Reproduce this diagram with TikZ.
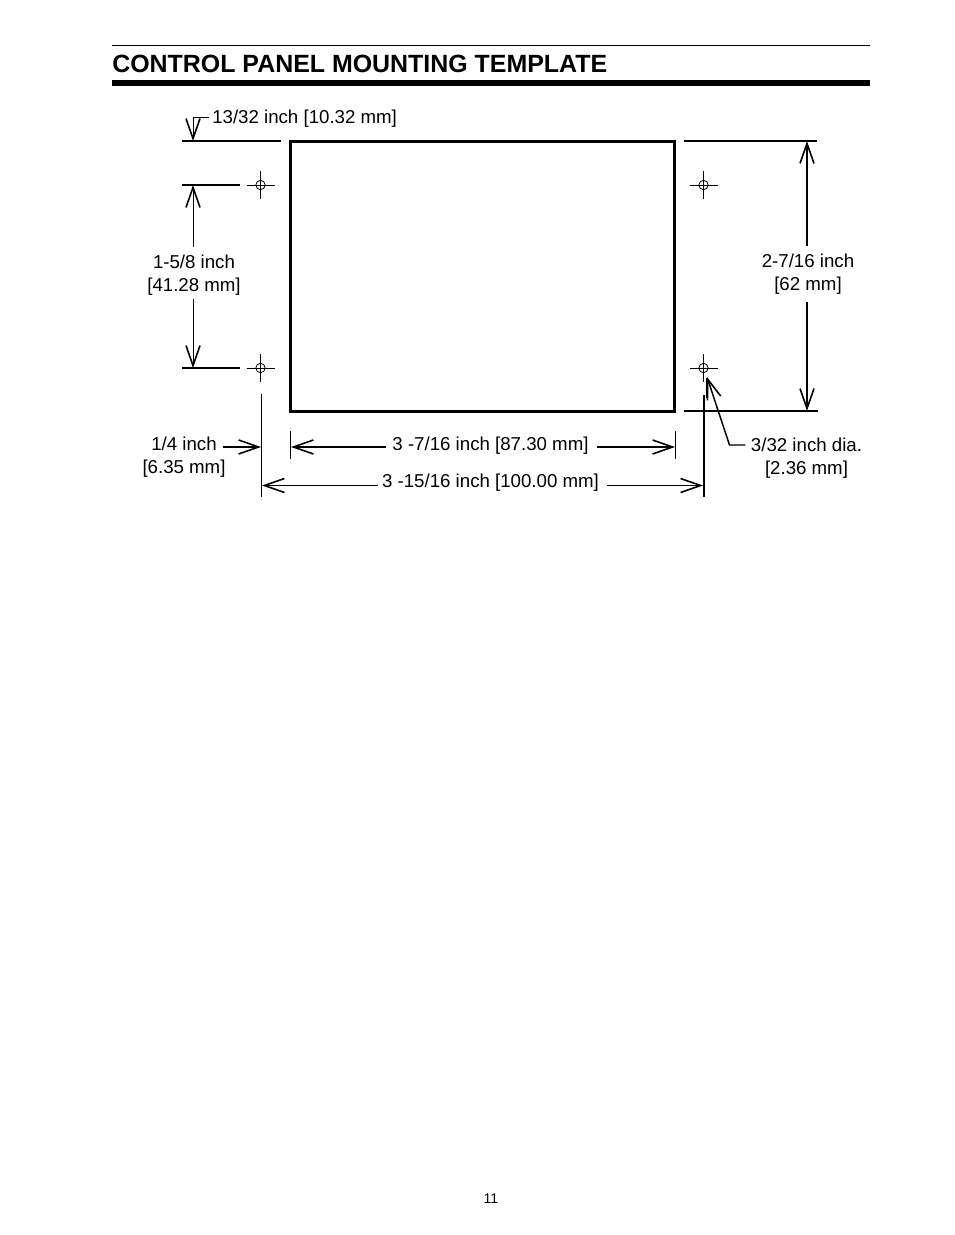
\documentclass[tikz,border=0pt]{standalone}
\usepackage{fontspec}
\setmainfont{Liberation Sans}
\usetikzlibrary{arrows.meta}
\tikzset{
    dimtip/.style={-{Straight Barb[length=15pt,width=10.5pt,line width=1.2pt]}},
    lbl/.style={inner sep=0pt,align=center,font=\fontsize{14}{17}\selectfont},
    thinline/.style={line width=0.75pt},
    midline/.style={line width=1.1pt},
    heavyline/.style={line width=1.5pt},
    markring/.style={draw,circle,line width=0.6pt,minimum size=7pt,inner sep=0pt}
}
\begin{document}
\begin{tikzpicture}[x=0.75pt,y=-0.75pt]
    \useasboundingbox (0,0) rectangle (954,1235);

    % heading
    \coordinate (topruleL) at (112,45.5);
    \coordinate (topruleR) at (870,45.5);
    \coordinate (subruleL) at (112,83);
    \coordinate (subruleR) at (870,83);
    \draw[thinline] (topruleL) -- (topruleR);
    \draw[line width=4.5pt] (subruleL) -- (subruleR);
    \node[anchor=base west,inner sep=0pt,font=\fontsize{18.7}{20}\selectfont\bfseries] (heading) at (112,72) {CONTROL PANEL MOUNTING TEMPLATE};

    % panel cut-out
    \node[draw,line width=2.35pt,minimum width=384pt*0.75,minimum height=270pt*0.75,inner sep=0pt] (panel) at (482.5,276.5) {};

    % mounting holes
    \foreach \hname/\hx/\hy in {hTL/260.5/185,hTR/703.5/185,hBL/260.5/368,hBR/703.5/368} {
        \node[markring] (\hname) at (\hx,\hy) {};
        \draw[thinline] ([xshift=-10.5pt]\hname.center) -- ([xshift=10.5pt]\hname.center);
        \draw[thinline] ([yshift=10.5pt]\hname.center) -- ([yshift=-10.5pt]\hname.center);
    }

    % extension lines
    \coordinate (extA1) at (182,141); \coordinate (extA2) at (281,141);
    \coordinate (extB1) at (182,185); \coordinate (extB2) at (240,185);
    \coordinate (extC1) at (182,368); \coordinate (extC2) at (240,368);
    \coordinate (extD1) at (684,141); \coordinate (extD2) at (817,141);
    \coordinate (extE1) at (684,411); \coordinate (extE2) at (818,411);
    \coordinate (extF1) at (261.5,394); \coordinate (extF2) at (261.5,497);
    \coordinate (extG1) at (290.5,431); \coordinate (extG2) at (290.5,459);
    \coordinate (extH1) at (675,431); \coordinate (extH2) at (675,459);
    \coordinate (extI1) at (706.5,378); \coordinate (extI2) at (706.5,398);
    \coordinate (extJ1) at (704,395); \coordinate (extJ2) at (704,497);
    \draw[heavyline] (extA1) -- (extA2);
    \draw[midline] (extB1) -- (extB2);
    \draw[heavyline] (extC1) -- (extC2);
    \draw[heavyline] (extD1) -- (extD2);
    \draw[heavyline] (extE1) -- (extE2);
    \draw[thinline] (extF1) -- (extF2);
    \draw[thinline] (extG1) -- (extG2);
    \draw[thinline] (extH1) -- (extH2);
    \draw[midline] (extI1) -- (extI2);
    \draw[heavyline] (extJ1) -- (extJ2);

    % labels
    \node[lbl,anchor=base west] (gapTop) at (212,123) {13/32 inch [10.32 mm]};
    \node[lbl] (holeSpan) at (194,275) {1-5/8 inch\\ {[}41.28 mm{]}};
    \node[lbl] (panelHigh) at (808,274) {2-7/16 inch\\ {[}62 mm{]}};
    \node[lbl] (edgeGap) at (184,457) {1/4 inch\\ {[}6.35 mm{]}};
    \node[lbl] (panelWide) at (490.5,446) {3 -7/16 inch [87.30 mm]};
    \node[lbl] (holeWide) at (490.5,483) {3 -15/16 inch [100.00 mm]};
    \node[lbl] (holeDia) at (806.5,458) {3/32 inch dia.\\ {[}2.36 mm{]}};
    \node[inner sep=0pt,font=\fontsize{10.5}{12}\selectfont] (pageno) at (491,1199) {11};

    % dimension arrows
    \coordinate (tipA) at (193,141);
    \coordinate (tipB) at (193,185);
    \coordinate (tipC) at (193,368);
    \coordinate (tipD) at (807,141);
    \coordinate (tipE) at (807,411);
    \coordinate (tipF) at (261,447);
    \coordinate (tipG) at (291,447);
    \coordinate (tipH) at (675,447);
    \coordinate (tipI) at (262,485.5);
    \coordinate (tipJ) at (703,485.5);
    \coordinate (tipK) at (707,377);
    \coordinate (bendA) at (193,117.5);
    \coordinate (bendK) at (729.5,445);
    \draw[dimtip,thinline] (gapTop.west |- bendA) ++(-3,0) -- (bendA) -- (tipA);
    \draw[dimtip,thinline] ([yshift=6pt]holeSpan.north -| tipB) -- (tipB);
    \draw[dimtip,thinline] ([yshift=-3pt]holeSpan.south -| tipC) -- (tipC);
    \draw[dimtip,midline] ([yshift=5.5pt]panelHigh.north -| tipD) -- (tipD);
    \draw[dimtip,midline] ([yshift=-6pt]panelHigh.south -| tipE) -- (tipE);
    \draw[dimtip,midline] (edgeGap.east |- tipF) ++(-3,0) -- (tipF);
    \draw[dimtip,midline] ([xshift=-4.5pt]panelWide.west |- tipG) -- (tipG);
    \draw[dimtip,midline] ([xshift=6pt]panelWide.east |- tipH) -- (tipH);
    \draw[dimtip,thinline] ([xshift=-3pt]holeWide.west |- tipI) -- (tipI);
    \draw[dimtip,midline] ([xshift=6pt]holeWide.east |- tipJ) -- (tipJ);
    \draw[dimtip,midline] ([xshift=-4pt]holeDia.west |- bendK) -- (bendK) -- (tipK);
\end{tikzpicture}
\end{document}
